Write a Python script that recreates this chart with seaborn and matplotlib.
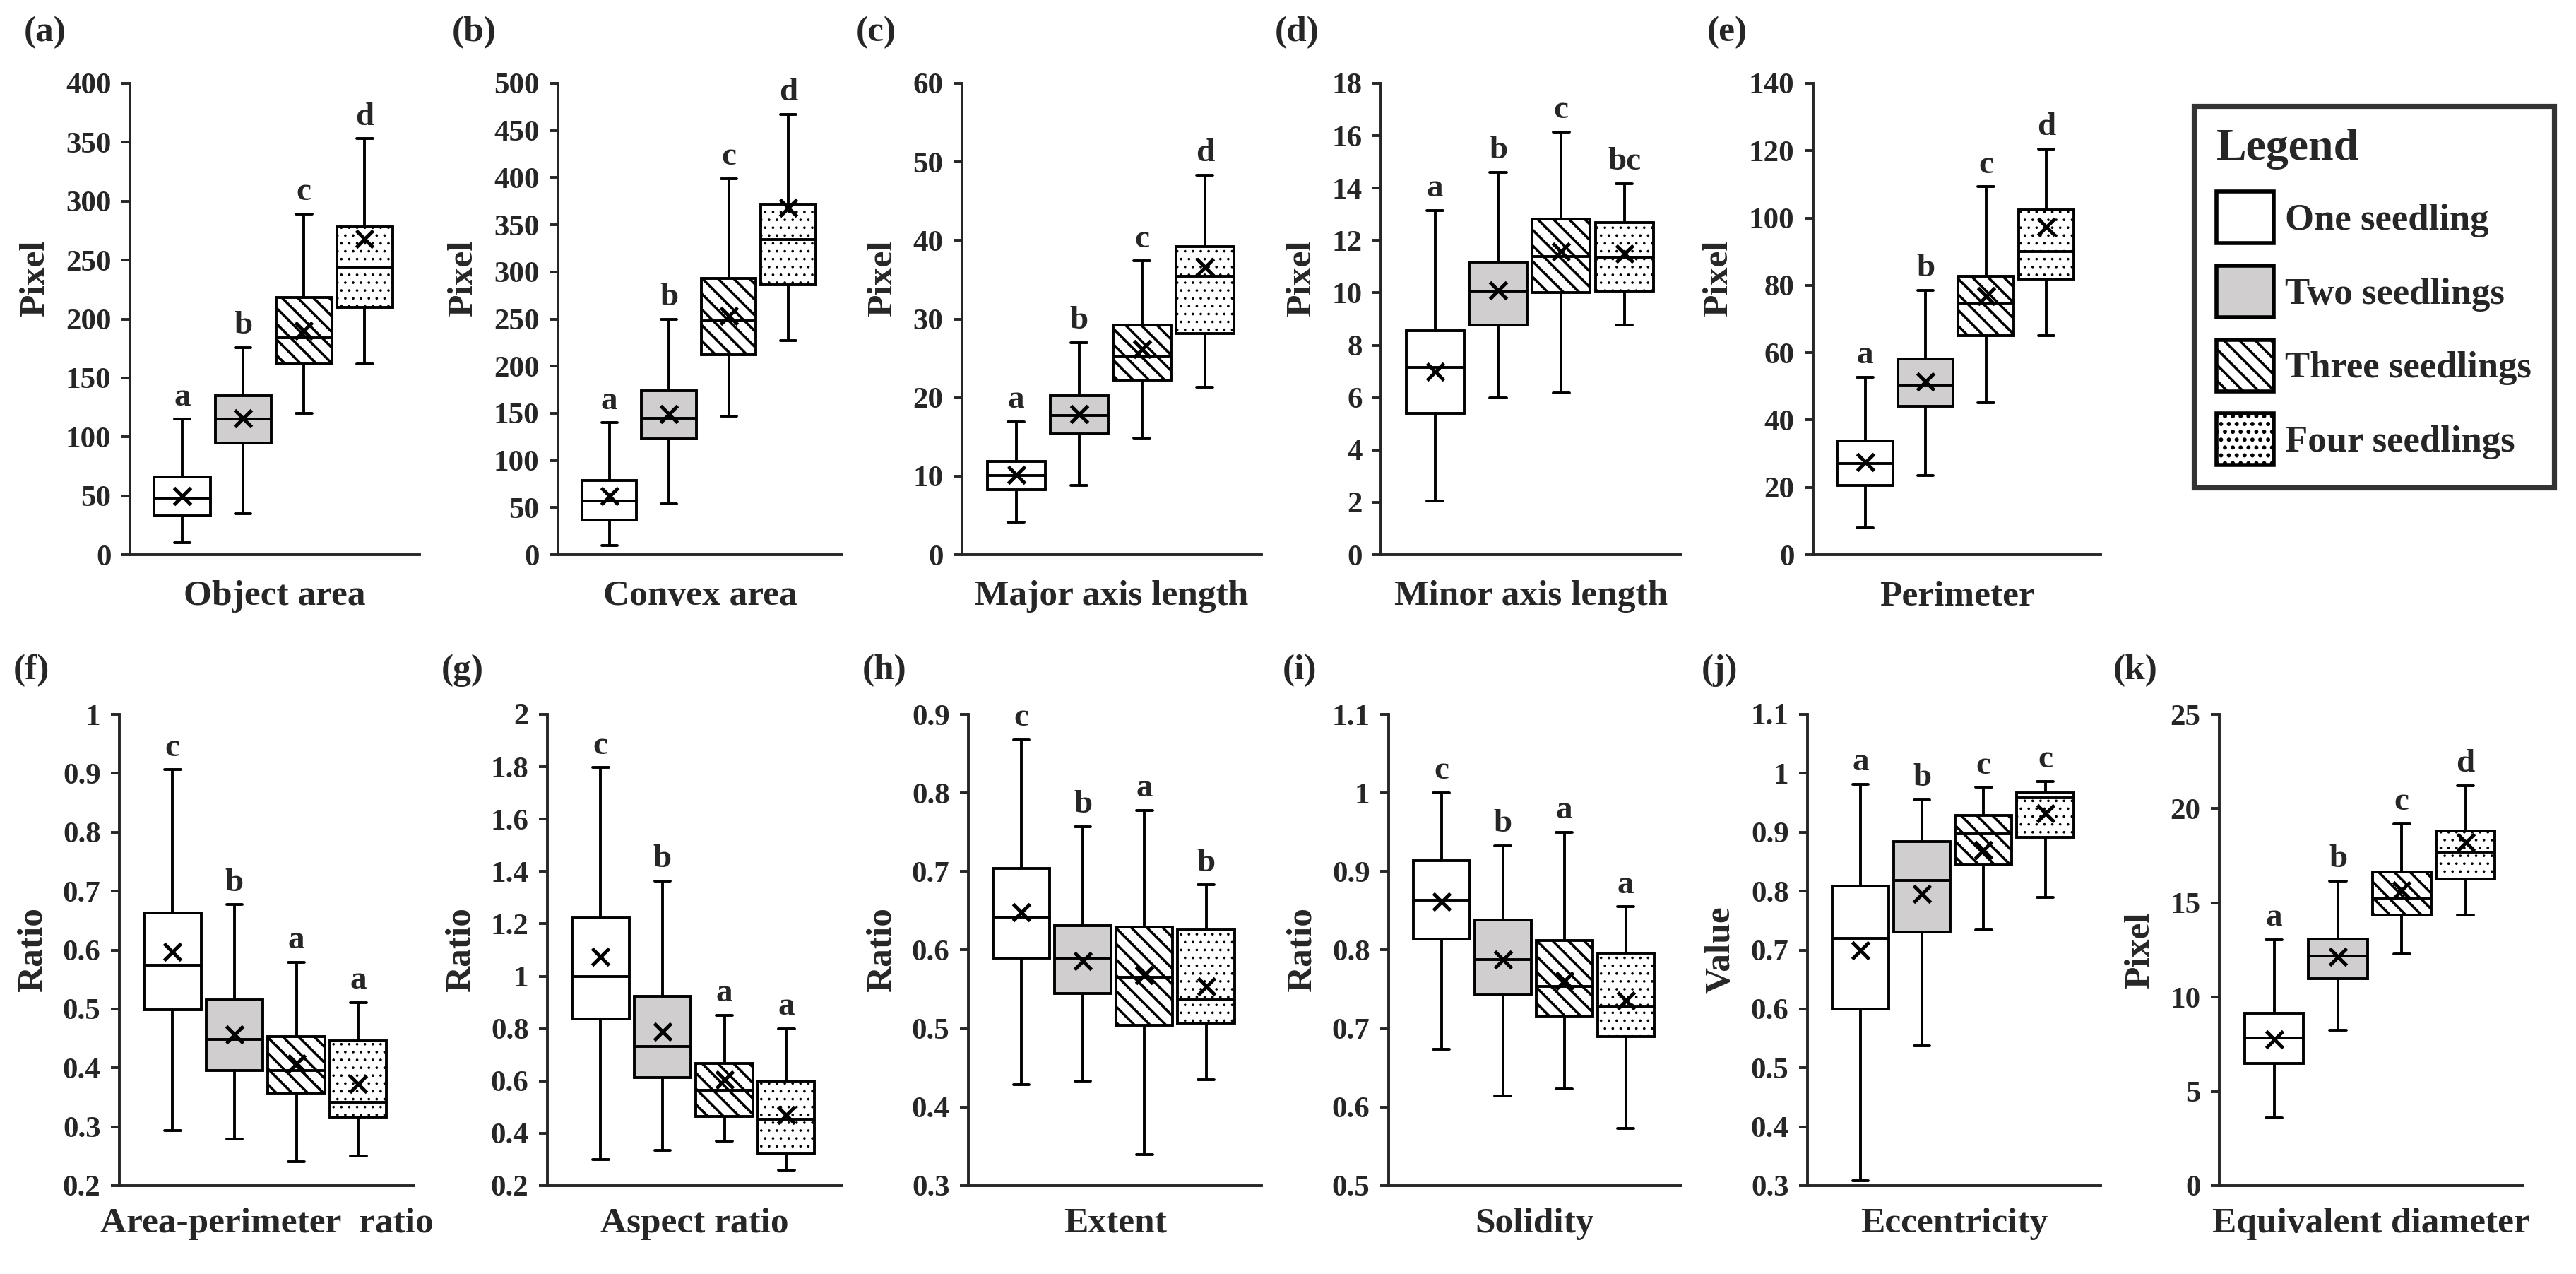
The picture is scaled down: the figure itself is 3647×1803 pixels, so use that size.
import matplotlib
matplotlib.use("Agg")
import matplotlib.pyplot as plt
import numpy as np
import pandas as pd
import seaborn as sns
from matplotlib.patches import Patch
from matplotlib.ticker import FuncFormatter, MultipleLocator

groups = ["One seedling", "Two seedlings", "Three seedlings", "Four seedlings"]
fills = ["white", "#d0cece", "white", "white"]
hatches = ["", "", "\\\\\\", "..."]

# box stats per group: [whisker low, Q1, median, Q3, whisker high]
object_area = [[10, 33, 48, 66, 115], [35, 95, 115, 135, 176],
               [120, 162, 184, 218, 289], [162, 210, 244, 278, 353]]
object_area_mean = [50, 116, 190, 268]
object_area_letters = ["a", "b", "c", "d"]

convex_area = [[10, 37, 57, 79, 140], [54, 123, 145, 174, 250],
               [147, 212, 248, 293, 399], [227, 286, 334, 372, 467]]
convex_area_mean = [62, 149, 253, 368]
convex_area_letters = ["a", "b", "c", "d"]

major_axis = [[4.1, 8.3, 10.1, 11.9, 16.9], [8.8, 15.4, 17.7, 20.2, 27.0],
              [14.8, 22.2, 25.3, 29.2, 37.4], [21.3, 28.2, 35.4, 39.2, 48.3]]
major_axis_mean = [10.2, 17.9, 26.2, 36.6]
major_axis_letters = ["a", "b", "c", "d"]

minor_axis = [[2.06, 5.39, 7.15, 8.56, 13.14], [6.0, 8.76, 10.06, 11.16, 14.6],
              [6.19, 10.0, 11.4, 12.81, 16.14], [8.76, 10.06, 11.36, 12.69, 14.18]]
minor_axis_mean = [6.99, 10.1, 11.57, 11.5]
minor_axis_letters = ["a", "b", "c", "bc"]

perimeter = [[7.9, 20.5, 27.1, 33.7, 52.7], [23.6, 44.1, 50.3, 58.1, 78.6],
             [45.1, 65.1, 74.8, 82.8, 109.3], [65.1, 81.9, 90.0, 102.4, 120.5]]
perimeter_mean = [27.4, 51.5, 76.8, 97.3]
perimeter_letters = ["a", "b", "c", "d"]

area_perimeter = [[0.293, 0.499, 0.574, 0.663, 0.906], [0.279, 0.395, 0.448, 0.515, 0.677],
                  [0.241, 0.357, 0.395, 0.453, 0.579], [0.250, 0.316, 0.341, 0.446, 0.511]]
area_perimeter_mean = [0.597, 0.457, 0.407, 0.373]
area_perimeter_letters = ["c", "b", "a", "a"]

aspect_ratio = [[0.299, 0.836, 0.998, 1.222, 1.797], [0.335, 0.613, 0.732, 0.923, 1.363],
                [0.370, 0.465, 0.565, 0.666, 0.851], [0.259, 0.322, 0.454, 0.600, 0.799]]
aspect_ratio_mean = [1.074, 0.788, 0.605, 0.470]
aspect_ratio_letters = ["c", "b", "a", "a"]

extent = [[0.429, 0.590, 0.642, 0.704, 0.868], [0.433, 0.545, 0.590, 0.631, 0.757],
          [0.340, 0.504, 0.565, 0.629, 0.778], [0.435, 0.507, 0.537, 0.626, 0.683]]
extent_mean = [0.648, 0.586, 0.568, 0.554]
extent_letters = ["c", "b", "a", "b"]

solidity = [[0.674, 0.814, 0.863, 0.914, 1.000], [0.614, 0.743, 0.788, 0.838, 0.933],
            [0.623, 0.716, 0.754, 0.812, 0.950], [0.573, 0.690, 0.728, 0.796, 0.855]]
solidity_mean = [0.862, 0.788, 0.761, 0.736]
solidity_letters = ["c", "b", "a", "a"]

eccentricity = [[0.308, 0.600, 0.720, 0.808, 0.981], [0.538, 0.731, 0.818, 0.884, 0.955],
                [0.734, 0.845, 0.897, 0.928, 0.976], [0.789, 0.891, 0.959, 0.967, 0.986]]
eccentricity_mean = [0.699, 0.795, 0.870, 0.932]
eccentricity_letters = ["a", "b", "c", "c"]

equiv_diameter = [[3.6, 6.5, 7.83, 9.16, 13.06], [8.23, 10.97, 12.18, 13.08, 16.15],
                  [12.31, 14.34, 15.27, 16.66, 19.2], [14.34, 16.28, 17.70, 18.82, 21.23]]
equiv_diameter_mean = [7.77, 12.14, 15.67, 18.2]
equiv_diameter_letters = ["a", "b", "c", "d"]

W, H = 3648, 1803

# tag, xlabel, ylabel, stats, means, letters, ylim, ystep, axes left/right px, row
panels = [
    ("(a)", "Object area", "Pixel", object_area, object_area_mean, object_area_letters, (0, 400), 50, (184, 594), 0),
    ("(b)", "Convex area", "Pixel", convex_area, convex_area_mean, convex_area_letters, (0, 500), 50, (790, 1192), 0),
    ("(c)", "Major axis length", "Pixel", major_axis, major_axis_mean, major_axis_letters, (0, 60), 10, (1362, 1786), 0),
    ("(d)", "Minor axis length", "Pixel", minor_axis, minor_axis_mean, minor_axis_letters, (0, 18), 2, (1955, 2380), 0),
    ("(e)", "Perimeter", "Pixel", perimeter, perimeter_mean, perimeter_letters, (0, 140), 20, (2567, 2974), 0),
    ("(f)", "Area-perimeter  ratio", "Ratio", area_perimeter, area_perimeter_mean, area_perimeter_letters, (0.2, 1.0), 0.1, (169, 586), 1),
    ("(g)", "Aspect ratio", "Ratio", aspect_ratio, aspect_ratio_mean, aspect_ratio_letters, (0.2, 2.0), 0.2, (775, 1192), 1),
    ("(h)", "Extent", "Ratio", extent, extent_mean, extent_letters, (0.3, 0.9), 0.1, (1371, 1786), 1),
    ("(i)", "Solidity", "Ratio", solidity, solidity_mean, solidity_letters, (0.5, 1.1), 0.1, (1966, 2380), 1),
    ("(j)", "Eccentricity", "Value", eccentricity, eccentricity_mean, eccentricity_letters, (0.3, 1.1), 0.1, (2559, 2974), 1),
    ("(k)", "Equivalent diameter", "Pixel", equiv_diameter, equiv_diameter_mean, equiv_diameter_letters, (0, 25), 5, (3142, 3572), 1),
]

sns.set_style("ticks")
plt.rcParams["font.family"] = ["Liberation Serif", "DejaVu Serif"]
plt.rcParams["font.weight"] = "bold"
plt.rcParams["axes.labelweight"] = "bold"
plt.rcParams["hatch.linewidth"] = 1.3
plt.rcParams["hatch.color"] = "black"

LW = 1.4


def style_hatch(patch, hatch):
    patch.set_hatch(hatch)
    patch.set_edgecolor("black")
    # the dotted fill is lighter than the diagonal lines
    if hatch == "..." and hasattr(patch, "set_hatch_linewidth"):
        patch.set_hatch_linewidth(0.5)


def draw_panel(fig, tag, xlabel, ylabel, stats, means, letters, ylim, ystep, xpx, row):
    bottom_px = 785 if row == 0 else 1678
    ax = fig.add_axes([xpx[0] / W, 1 - bottom_px / H, (xpx[1] - xpx[0]) / W, 667 / H])

    df = pd.DataFrame(
        [(g, v) for g, s in zip(groups, stats) for v in s], columns=["group", "value"]
    )
    sns.boxplot(
        data=df, x="group", y="value", hue="group", order=groups, hue_order=groups,
        palette=fills, saturation=1, width=0.92, whis=(0, 100), showfliers=False,
        linecolor="black", linewidth=LW, legend=False, ax=ax, capwidths=0.26,
    )
    for patch in ax.patches:
        cx = patch.get_path().vertices[:, 0].mean()
        style_hatch(patch, hatches[int(round(cx))])

    mdf = pd.DataFrame({"group": groups, "mean": means})
    sns.pointplot(
        data=mdf, x="group", y="mean", order=groups, color="black", markers="x",
        linestyle="none", errorbar=None, markersize=8.5, markeredgewidth=1.8,
        zorder=5, ax=ax,
    )

    for i, (s, letter) in enumerate(zip(stats, letters)):
        ax.annotate(letter, (i, s[4]), xytext=(0, 3.5), textcoords="offset points",
                    ha="center", va="bottom", fontsize=17, fontweight="bold")

    ax.set_xlim(-0.86, 3.9)
    ax.set_ylim(*ylim)
    ax.yaxis.set_major_locator(MultipleLocator(ystep))
    ax.yaxis.set_major_formatter(FuncFormatter(lambda v, p: f"{v:g}"))
    ax.tick_params(axis="x", bottom=False, labelbottom=False)
    ax.tick_params(axis="y", direction="out", length=4.5, width=LW, pad=5, labelsize=15.5)
    for lab in ax.get_yticklabels():
        lab.set_fontweight("bold")
    sns.despine(ax=ax)
    for sp in ("left", "bottom"):
        ax.spines[sp].set_linewidth(LW)

    ax.set_xlabel(xlabel, fontsize=18.5, fontweight="bold", labelpad=13 if row == 0 else 11)
    ax.set_ylabel(ylabel, fontsize=18.5, fontweight="bold", labelpad=7)
    if row == 0:
        ax.yaxis.label.set_y(0.587)

    label_y = 1 - (46 if row == 0 else 949) / H
    fig.text((xpx[0] - 150) / W, label_y, tag, fontsize=18.5, fontweight="bold",
             ha="left", va="center")
    return ax


fig = plt.figure(figsize=(W / 200, H / 200), dpi=200)
for p in panels:
    draw_panel(fig, *p)

handles = []
for f, h in zip(fills, hatches):
    hp = Patch(facecolor=f, edgecolor="black", linewidth=2.0)
    style_hatch(hp, h)
    handles.append(hp)

leg = fig.legend(
    handles, groups, title="Legend", loc="upper left",
    bbox_to_anchor=(3106 / W, 1 - 150 / H), frameon=True, fancybox=False,
    edgecolor="black", fontsize=19, title_fontsize=23, handlelength=1.55,
    handleheight=1.75, handletextpad=0.3, labelspacing=0.6, borderpad=0.6,
    borderaxespad=0, alignment="left",
)
leg.get_frame().set_linewidth(2.6)
leg.get_title().set_fontweight("bold")
for t in leg.get_texts():
    t.set_fontweight("bold")

fig.savefig("out.png", dpi=200)
